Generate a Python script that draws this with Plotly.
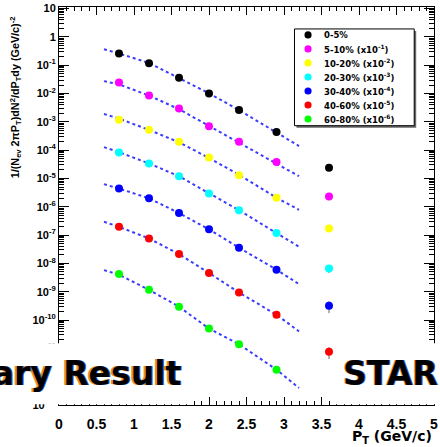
import plotly.graph_objects as go

# ---------------- data ----------------
x_pts = [0.8, 1.2, 1.6, 2.0, 2.4, 2.9, 3.6]
cent_labels = ["0-5%", "5-10% (x10<sup>-1</sup>)", "10-20% (x10<sup>-2</sup>)",
               "20-30% (x10<sup>-3</sup>)", "30-40% (x10<sup>-4</sup>)",
               "40-60% (x10<sup>-5</sup>)", "60-80% (x10<sup>-6</sup>)"]
colors = ["#000000", "#ff00ff", "#ffff00", "#00ffff", "#0000ff", "#ff0000", "#00ff00"]

y_0_5 = [0.257, 0.118, 0.036, 0.010, 2.6e-3, 4.4e-4, 2.4e-5]
y_5_10 = [0.0245, 8.5e-3, 2.95e-3, 7.0e-4, 2.0e-4, 3.8e-5, 2.3e-6]
y_10_20 = [1.18e-3, 5.3e-4, 2.0e-4, 5.5e-5, 1.3e-5, 2.1e-6, 1.7e-7]
y_20_30 = [8.3e-5, 3.4e-5, 1.2e-5, 2.95e-6, 7.6e-7, 1.18e-7, 6.6e-9]
y_30_40 = [4.4e-6, 2.0e-6, 6.0e-7, 1.6e-7, 3.6e-8, 6.0e-9, 3.2e-10]
y_40_60 = [1.96e-7, 7.6e-8, 2.14e-8, 4.6e-9, 9.4e-10, 1.54e-10, 7.6e-12]
y_60_80 = [4.2e-9, 1.17e-9, 2.96e-10, 5.0e-11, 1.4e-11, 1.77e-12, None]

rel_err_0_5 = [0.06, 0.06, 0.06, 0.06, 0.06, 0.08, 0.10]
rel_err_5_10 = [0.06, 0.06, 0.06, 0.06, 0.06, 0.08, 0.12]
rel_err_10_20 = [0.06, 0.06, 0.06, 0.06, 0.06, 0.08, 0.12]
rel_err_20_30 = [0.06, 0.06, 0.06, 0.06, 0.06, 0.08, 0.30]
rel_err_30_40 = [0.08, 0.06, 0.06, 0.06, 0.08, 0.10, 0.45]
rel_err_40_60 = [0.08, 0.06, 0.06, 0.08, 0.08, 0.10, 0.45]
rel_err_60_80 = [0.22, 0.10, 0.10, 0.10, 0.15, 0.18, None]

x_fit = [0.6, 0.8, 1.2, 1.6, 2.0, 2.4, 2.9, 3.2]
fit_0_5 = [0.367, 0.26, 0.12, 0.036, 0.0102, 2.6e-3, 4.3e-4, 1.4e-4]
fit_5_10 = [0.0274, 0.021, 8.5e-3, 2.8e-3, 7.2e-4, 1.85e-4, 3.5e-5, 1.2e-5]
fit_10_20 = [1.9e-3, 1.3e-3, 5.2e-4, 1.9e-4, 5.3e-5, 1.35e-5, 2.1e-6, 7.8e-7]
fit_20_30 = [1.28e-4, 8.5e-5, 3.4e-5, 1.2e-5, 3.0e-6, 7.6e-7, 1.18e-7, 3.9e-8]
fit_30_40 = [6.3e-6, 4.4e-6, 2.0e-6, 6.0e-7, 1.6e-7, 3.6e-8, 6.0e-9, 1.86e-9]
fit_40_60 = [2.95e-7, 1.96e-7, 7.6e-8, 2.14e-8, 4.6e-9, 9.4e-10, 1.54e-10, 4.0e-11]
fit_60_80 = [5.8e-9, 4.0e-9, 1.17e-9, 2.96e-10, 5.0e-11, 1.4e-11, 1.77e-12, 4.0e-13]

y_tickvals = [1e1, 1e0, 1e-1, 1e-2, 1e-3, 1e-4, 1e-5, 1e-6, 1e-7, 1e-8, 1e-9, 1e-10, 1e-11, 1e-12, 1e-13]
y_ticktext = ["10", "1", "10<sup>-1</sup>", "10<sup>-2</sup>", "10<sup>-3</sup>", "10<sup>-4</sup>",
              "10<sup>-5</sup>", "10<sup>-6</sup>", "10<sup>-7</sup>", "10<sup>-8</sup>",
              "10<sup>-9</sup>", "10<sup>-10</sup>", "10<sup>-11</sup>", "10<sup>-12</sup>",
              "10<sup>-13</sup>"]
x_tickvals = [0, 0.5, 1, 1.5, 2, 2.5, 3, 3.5, 4, 4.5, 5]
x_ticktext = ["0", "0.5", "1", "1.5", "2", "2.5", "3", "3.5", "4", "4.5", "5"]

series = [y_0_5, y_5_10, y_10_20, y_20_30, y_30_40, y_40_60, y_60_80]
errs = [rel_err_0_5, rel_err_5_10, rel_err_10_20, rel_err_20_30, rel_err_30_40, rel_err_40_60, rel_err_60_80]
fits = [fit_0_5, fit_5_10, fit_10_20, fit_20_30, fit_30_40, fit_40_60, fit_60_80]

# ---------------- layout geometry ----------------
W, H = 440, 447
ML, MR, MT, MB = 59, 2, 6, 42
PW, PH = W - ML - MR, H - MT - MB


def px(p):
    return (p - ML) / PW


def py(p):
    return (H - MB - p) / PH


FONT = "Liberation Sans, Arial, sans-serif"
WIDE = "DejaVu Sans, sans-serif"

fig = go.Figure()

for f in fits:
    fig.add_trace(go.Scatter(x=x_fit, y=f, mode="lines",
                             line=dict(color="#3c3cff", width=2, dash="dot"),
                             showlegend=False, hoverinfo="skip"))

for ys, es, c in zip(series, errs, colors):
    err = [None if (v is None or e is None) else v * e for v, e in zip(ys, es)]
    fig.add_trace(go.Scatter(x=x_pts, y=ys, mode="markers",
                             marker=dict(color=c, size=8, line=dict(width=0)),
                             error_y=dict(type="data", array=err, visible=True,
                                          color="#666666", thickness=1, width=0),
                             showlegend=False))

shapes = []
# white banner boxes
shapes.append(dict(type="rect", xref="paper", yref="paper", layer="above",
                   x0=px(-2), x1=px(193), y0=py(404.2), y1=py(343),
                   fillcolor="white", line=dict(width=0)))
shapes.append(dict(type="rect", xref="paper", yref="paper", layer="above",
                   x0=px(336), x1=px(445), y0=py(404.2), y1=py(343),
                   fillcolor="white", line=dict(width=0)))
# legend box with shadow
LX0, LX1, LY0, LY1 = 297, 418, 28, 125
shapes.append(dict(type="rect", xref="paper", yref="paper", layer="above",
                   x0=px(LX0 + 2), x1=px(LX1 + 2), y0=py(LY1 + 2), y1=py(LY0 + 2),
                   fillcolor="#666666", line=dict(width=0)))
shapes.append(dict(type="rect", xref="paper", yref="paper", layer="above",
                   x0=px(LX0), x1=px(LX1), y0=py(LY1), y1=py(LY0),
                   fillcolor="white", line=dict(color="black", width=1)))

annotations = []
for i, (lab, c) in enumerate(zip(cent_labels, colors)):
    cy = 34 + 14.05 * i
    cx = 310.7
    r = 3.6
    shapes.append(dict(type="circle", xref="paper", yref="paper", layer="above",
                       x0=px(cx - r), x1=px(cx + r), y0=py(cy + r), y1=py(cy - r),
                       fillcolor=c, line=dict(width=0)))
    annotations.append(dict(text=lab, xref="paper", yref="paper", x=px(325), y=py(cy),
                            xanchor="left", yanchor="middle", showarrow=False,
                            font=dict(family=WIDE, size=8.5, color="black", weight="bold")))

# axis titles
annotations.append(dict(
    text="1/(N<sub>ev</sub> 2πP<sub>T</sub>)dN<sup>2</sup>/dP<sub>T</sub>dy (GeV/c)<sup>-2</sup>",
    xref="paper", yref="paper", x=px(15), y=py(96), textangle=-90,
    xanchor="center", yanchor="middle", showarrow=False,
    font=dict(family=FONT, size=10.8, color="black", weight="bold")))
annotations.append(dict(
    text="P<sub>T</sub> (GeV/c)", xref="paper", yref="paper", x=px(438), y=py(437),
    xanchor="right", yanchor="middle", showarrow=False,
    font=dict(family=WIDE, size=14, color="black", weight="bold")))

# banner texts
BANNER_FONT = "DejaVu Sans, sans-serif"
for dx, col in [(-1.5, "#e8902a"), (1.2, "#3060c0"), (0, "#000000")]:
    annotations.append(dict(text="Preliminary Result", xref="paper", yref="paper",
                            x=px(184 + dx), y=py(373), xanchor="right", yanchor="middle",
                            showarrow=False,
                            font=dict(family=BANNER_FONT, size=33, color=col, weight="bold")))
    annotations.append(dict(text="STAR", xref="paper", yref="paper",
                            x=px(344 + dx), y=py(373), xanchor="left", yanchor="middle",
                            showarrow=False,
                            font=dict(family=BANNER_FONT, size=33, color=col, weight="bold")))

fig.update_layout(
    width=W, height=H,
    margin=dict(l=ML, r=MR, t=MT, b=MB, pad=0),
    paper_bgcolor="white", plot_bgcolor="white",
    showlegend=False,
    shapes=shapes, annotations=annotations,
    xaxis=dict(range=[0, 5], tickvals=x_tickvals, ticktext=x_ticktext,
               ticks="inside", ticklen=8, tickwidth=1, tickcolor="black",
               showline=True, linecolor="black", linewidth=1, mirror="allticks",
               showgrid=False, zeroline=False, ticklabelstandoff=6,
               ticklabeloverflow="allow",
               tickfont=dict(family=FONT, size=14, color="black", weight="bold"),
               minor=dict(dtick=0.1, ticks="inside", ticklen=4, tickcolor="black", showgrid=False)),
    yaxis=dict(type="log", range=[-13, 1.056], tickvals=y_tickvals, ticktext=y_ticktext,
               ticks="inside", ticklen=10, tickwidth=1, tickcolor="black",
               showline=True, linecolor="black", linewidth=1, mirror="allticks",
               showgrid=False, zeroline=False, ticklabeloverflow="allow",
               tickfont=dict(family=FONT, size=11, color="black", weight="bold"),
               minor=dict(dtick="D1", ticks="inside", ticklen=5, tickcolor="black", showgrid=False)),
)

fig.write_html("out.html")
